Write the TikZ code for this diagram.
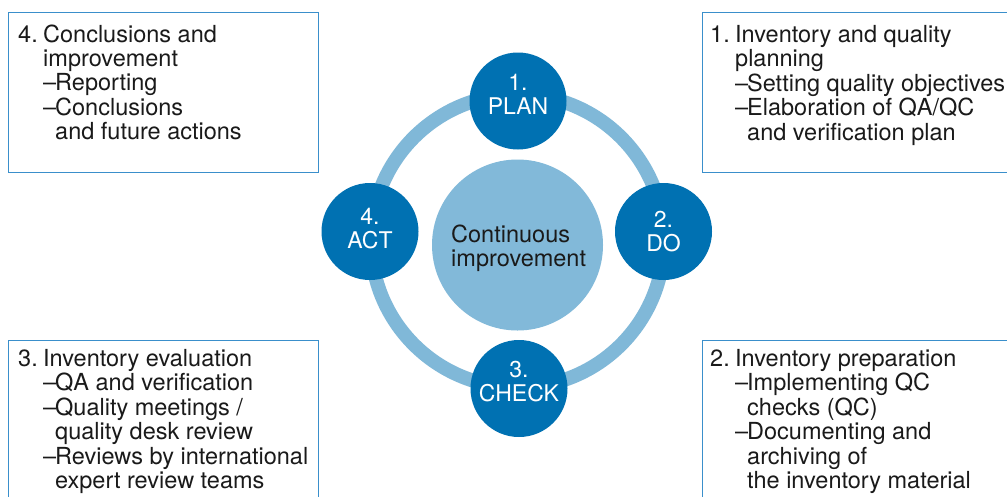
\documentclass[tikz,border=0pt]{standalone}
\usepackage{fontspec}
\setmainfont{TeX Gyre Heros}
\definecolor{pdcablue}{HTML}{0071B2}
\definecolor{ringblue}{HTML}{80B8D8}
\definecolor{hubblue}{HTML}{82B9D9}
\definecolor{frameblue}{HTML}{3A8FCB}
\definecolor{inktext}{HTML}{1A1A1A}
% list helpers: numbered head, its continuation, dash item, dash continuation
\newcommand\lhead[2]{\makebox[25pt][l]{#1}#2}
\newcommand\lcont[1]{\hspace*{25pt}#1}
\newcommand\ldash[1]{\hspace*{25pt}\makebox[12pt][l]{–}#1}
\newcommand\ldcont[1]{\hspace*{37pt}#1}
\begin{document}
\begin{tikzpicture}[x=1pt,y=-1pt,
  frame/.style={draw=frameblue,line width=1.3pt,anchor=north west,inner sep=0pt},
  listtext/.style={anchor=base west,inner sep=0pt,text=inktext,
    font=\fontsize{23.5}{24}\selectfont},
  phase/.style={circle,fill=pdcablue,minimum size=97,inner sep=0pt},
  phaselabel/.style={anchor=base,inner sep=0pt,text=white,
    font=\fontsize{23}{24}\selectfont},
  ringline/.style={draw=ringblue,line width=14pt},
  hubdisc/.style={circle,fill=hubblue,minimum size=171,inner sep=0pt}]
\clip (0,0) rectangle (1007,496);
\fill[white] (0,0) rectangle (1007,496);

% text frames (two of them run past the right and bottom edges)
\node[frame,minimum width=310,minimum height=160] (f4) at (8,12) {};
\node[frame,minimum width=330,minimum height=160] (f1) at (702,12) {};
\node[frame,minimum width=310,minimum height=180] (f3) at (8,340) {};
\node[frame,minimum width=330,minimum height=180] (f2) at (702,340) {};

\node[listtext] (t4) at (18,42) {\begin{tabular}[t]{@{}l@{}}
  \lhead{4.}{Conclusions and}\\
  \lcont{improvement}\\
  \ldash{Reporting}\\
  \ldash{Conclusions}\\
  \ldcont{and future actions}
\end{tabular}};

\node[listtext] (t1) at (710,42) {\begin{tabular}[t]{@{}l@{}}
  \lhead{1.}{Inventory and quality}\\
  \lcont{planning}\\
  \ldash{Setting quality objectives}\\
  \ldash{Elaboration of QA/QC}\\
  \ldcont{and verification plan}
\end{tabular}};

\node[listtext] (t3) at (18,366) {\begin{tabular}[t]{@{}l@{}}
  \lhead{3.}{Inventory evaluation}\\
  \ldash{QA and verification}\\
  \ldash{Quality meetings /}\\
  \ldcont{quality desk review}\\
  \ldash{Reviews by international}\\
  \ldcont{expert review teams}
\end{tabular}};

\node[listtext] (t2) at (710,366) {\begin{tabular}[t]{@{}l@{}}
  \lhead{2.}{Inventory preparation}\\
  \ldash{Implementing QC}\\
  \ldcont{checks (QC)}\\
  \ldash{Documenting and}\\
  \ldcont{archiving of}\\
  \ldcont{the inventory material}
\end{tabular}};

% PDCA cycle
\coordinate (hub) at (517.5,241);
\draw[ringline] (hub) circle[radius=146.5];
\node[hubdisc] (core) at (517.5,245) {};
\node[listtext] (coretext) at (451,242) {\begin{tabular}[t]{@{}l@{}}
  Continuous\\improvement\end{tabular}};

\node[phase] (plan) at (518,101) {};
\node[phase] (do) at (663.5,231.5) {};
\node[phase] (check) at (519,388.5) {};
\node[phase] (act) at (370,231.5) {};

\node[phaselabel] (planlbl) at (518,90) {\begin{tabular}[t]{@{}c@{}}1.\\PLAN\end{tabular}};
\node[phaselabel] (dolbl) at (663.5,227) {\begin{tabular}[t]{@{}c@{}}2.\\DO\end{tabular}};
\node[phaselabel] (checklbl) at (519,377) {\begin{tabular}[t]{@{}c@{}}3.\\CHECK\end{tabular}};
\node[phaselabel] (actlbl) at (370,224) {\begin{tabular}[t]{@{}c@{}}4.\\ACT\end{tabular}};
\end{tikzpicture}
\end{document}
